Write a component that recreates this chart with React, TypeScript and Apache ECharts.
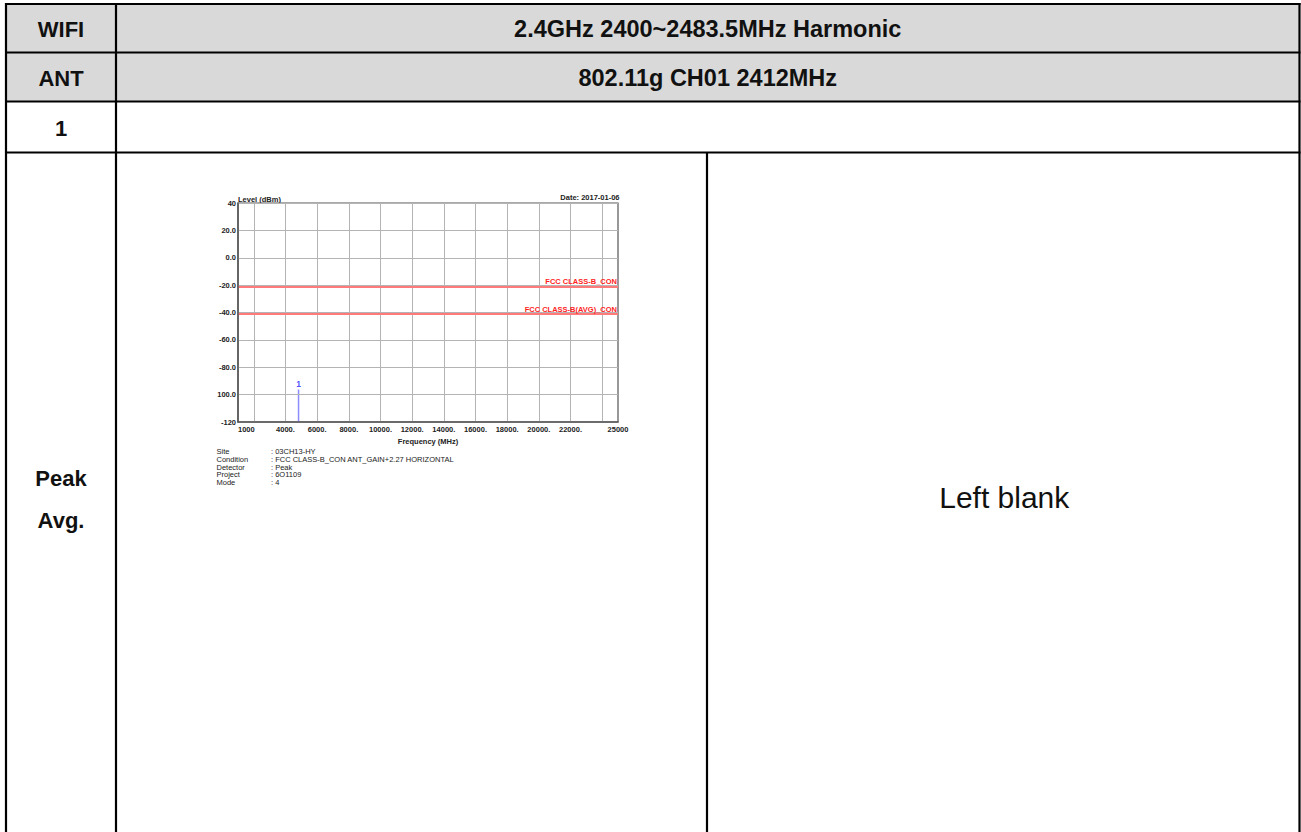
import React, { useEffect, useRef } from "react";
import * as echarts from "echarts";

// ---- data ----
const rowLabels = ["WIFI", "ANT", "1"];
const rowValues = ["2.4GHz 2400~2483.5MHz Harmonic", "802.11g CH01 2412MHz", ""];
const modeLabels = ["Peak", "Avg."];
const blankText = "Left blank";

const xMin = 1000;
const xMax = 25000;
const xGridValues = [2000, 4000, 6000, 8000, 10000, 12000, 14000, 16000, 18000, 20000, 22000, 24000];
const xLabelValues = [1000, 4000, 6000, 8000, 10000, 12000, 14000, 16000, 18000, 20000, 22000, 25000];
const xLabelTexts = ["1000", "4000.", "6000.", "8000.", "10000.", "12000.", "14000.", "16000.", "18000.", "20000.", "22000.", "25000"];
const yTicks = [40, 20, 0, -20, -40, -60, -80, -100, -120];
const yTickLabels = ["40", "20.0", "0.0", "-20.0", "-40.0", "-60.0", "-80.0", "100.0", "-120"];
const limitNames = ["FCC CLASS-B_CON", "FCC CLASS-B(AVG)_CON"];
const limitLevels = [-21.2, -41.2];
const markerFreqs = [4824];
const markerLevels = [-96.3];
const markerNames = ["1"];
const infoKeys = ["Site", "Condition", "Detector", "Project", "Mode"];
const infoValues = [": 03CH13-HY", ": FCC CLASS-B_CON ANT_GAIN+2.27 HORIZONTAL", ": Peak", ": 6O1109", ": 4"];
const yAxisTitle = "Level (dBm)";
const dateText = "Date: 2017-01-06";
const xAxisTitle = "Frequency (MHz)";

const FONT = "'Liberation Sans', Arial, Helvetica, sans-serif";

export default function App() {
  const ref = useRef<HTMLDivElement>(null);
  useEffect(() => {
    document.body.style.margin = "0";
    document.body.style.overflow = "hidden";
    const chart = echarts.init(ref.current!, null, { renderer: "svg" });

    // table geometry
    const L = 6, R = 1299.5, T = 4, B = 834;
    const rowY = [4, 52.5, 101.5, 152.5];
    const colX = 116;
    const midX = 707;
    const lineStyle = { stroke: "#000", lineWidth: 2.2 };
    const graphics: any[] = [];
    graphics.push({ type: "rect", shape: { x: L, y: rowY[0], width: R - L, height: rowY[2] - rowY[0] }, style: { fill: "#d9d9d9" }, z: 0 });
    rowY.forEach((y) => graphics.push({ type: "line", shape: { x1: L - 1, y1: y, x2: R + 1, y2: y }, style: lineStyle, z: 2 }));
    graphics.push({ type: "line", shape: { x1: L, y1: T - 1, x2: L, y2: B }, style: lineStyle, z: 2 });
    graphics.push({ type: "line", shape: { x1: R, y1: T - 1, x2: R, y2: B }, style: lineStyle, z: 2 });
    graphics.push({ type: "line", shape: { x1: colX, y1: T, x2: colX, y2: B }, style: lineStyle, z: 2 });
    graphics.push({ type: "line", shape: { x1: midX, y1: rowY[3], x2: midX, y2: B }, style: lineStyle, z: 2 });

    const cellFont = { fontFamily: FONT, fontWeight: "bold", fontSize: 23, fill: "#111", align: "center", verticalAlign: "middle" };
    rowLabels.forEach((t, i) => {
      const cy = (rowY[i] + rowY[i + 1]) / 2 + 1;
      graphics.push({ type: "text", x: (L + colX) / 2, y: cy, style: { ...cellFont, fontSize: 22, text: t }, z: 3 });
      if (rowValues[i]) graphics.push({ type: "text", x: (colX + R) / 2, y: cy, style: { ...cellFont, fontSize: 23.5, text: rowValues[i] }, z: 3 });
    });
    modeLabels.forEach((t, i) => {
      graphics.push({ type: "text", x: (L + colX) / 2, y: 478 + i * 42, style: { ...cellFont, fontSize: 22, text: t }, z: 3 });
    });
    graphics.push({ type: "text", x: (midX + R) / 2 + 1, y: 497, style: { fontFamily: FONT, fontSize: 30, fill: "#111", text: blankText, align: "center", verticalAlign: "middle" }, z: 3 });

    // chart annotations
    const small = { fontFamily: FONT, fontSize: 7.5, fill: "#222" };
    graphics.push({ type: "text", x: 238, y: 199, style: { ...small, fontWeight: "bold", text: yAxisTitle, align: "left", verticalAlign: "middle" }, z: 3 });
    graphics.push({ type: "text", x: 619.5, y: 197, style: { ...small, fontWeight: "bold", text: dateText, align: "right", verticalAlign: "middle" }, z: 3 });
    infoKeys.forEach((k, i) => {
      graphics.push({ type: "text", x: 216.5, y: 451.5 + i * 7.75, style: { ...small, text: k, verticalAlign: "middle" }, z: 3 });
      graphics.push({ type: "text", x: 271, y: 451.5 + i * 7.75, style: { ...small, text: infoValues[i], verticalAlign: "middle" }, z: 3 });
    });

    const axisText = { fontFamily: FONT, fontSize: 7.5, fontWeight: "bold", color: "#222" };

    chart.setOption({
      animation: false,
      backgroundColor: "#fff",
      grid: { left: 238, top: 203, width: 380, height: 219, show: true, borderColor: "#555", borderWidth: 1.2, backgroundColor: "transparent", z: 4 },
      xAxis: {
        type: "value",
        min: xMin,
        max: xMax,
        axisLine: { show: true, onZero: false, lineStyle: { color: "#555", width: 1.5 } },
        axisTick: { show: false, customValues: xGridValues },
        splitLine: { show: true, lineStyle: { color: "#b4b4b4", width: 1 } },
        axisLabel: {
          ...axisText,
          customValues: xLabelValues,
          margin: 3,
          alignMinLabel: "left",
          formatter: (v: number) => xLabelTexts[xLabelValues.indexOf(v)] ?? "",
        },
        name: xAxisTitle,
        nameLocation: "middle",
        nameGap: 15,
        nameTextStyle: axisText,
        z: 5,
      },
      yAxis: {
        type: "value",
        min: -120,
        max: 40,
        interval: 20,
        axisLine: { show: true, onZero: false, lineStyle: { color: "#555", width: 1.5 } },
        axisTick: { show: false },
        splitLine: { show: true, lineStyle: { color: "#b4b4b4", width: 1 } },
        axisLabel: {
          ...axisText,
          margin: 2,
          formatter: (v: number) => yTickLabels[yTicks.indexOf(v)] ?? "",
        },
        z: 5,
      },
      series: [
        {
          type: "line",
          symbol: "none",
          data: [],
          markLine: {
            silent: true,
            symbol: "none",
            lineStyle: { color: "#ff7b7b", width: 2, type: "solid" },
            label: { show: true, position: "insideEndTop", formatter: "{b}", color: "#ff1e1e", fontFamily: FONT, fontSize: 7.5, fontWeight: "bold", distance: 1 },
            data: limitNames.map((n, i) => ({ name: n, yAxis: limitLevels[i] })),
          },
          z: 3,
        },
        ...markerFreqs.map((f, i) => ({
          type: "line",
          symbol: "none",
          lineStyle: { color: "#8c8cff", width: 1.5 },
          data: [[f, -120], [f, markerLevels[i]]],
          z: 4,
        })),
        {
          type: "scatter",
          symbol: "circle",
          symbolSize: 1,
          itemStyle: { color: "rgba(0,0,0,0)" },
          data: markerFreqs.map((f, i) => [f, markerLevels[i]]),
          label: { show: true, position: "top", distance: 1, formatter: (p: any) => markerNames[p.dataIndex], color: "#2424ff", fontFamily: FONT, fontSize: 8.5, fontWeight: "bold" },
          z: 5,
        },
      ],
      graphic: graphics,
    });
    return () => chart.dispose();
  }, []);
  return <div ref={ref} style={{ position: "absolute", left: 0, top: 0, width: 1301, height: 832 }} />;
}
